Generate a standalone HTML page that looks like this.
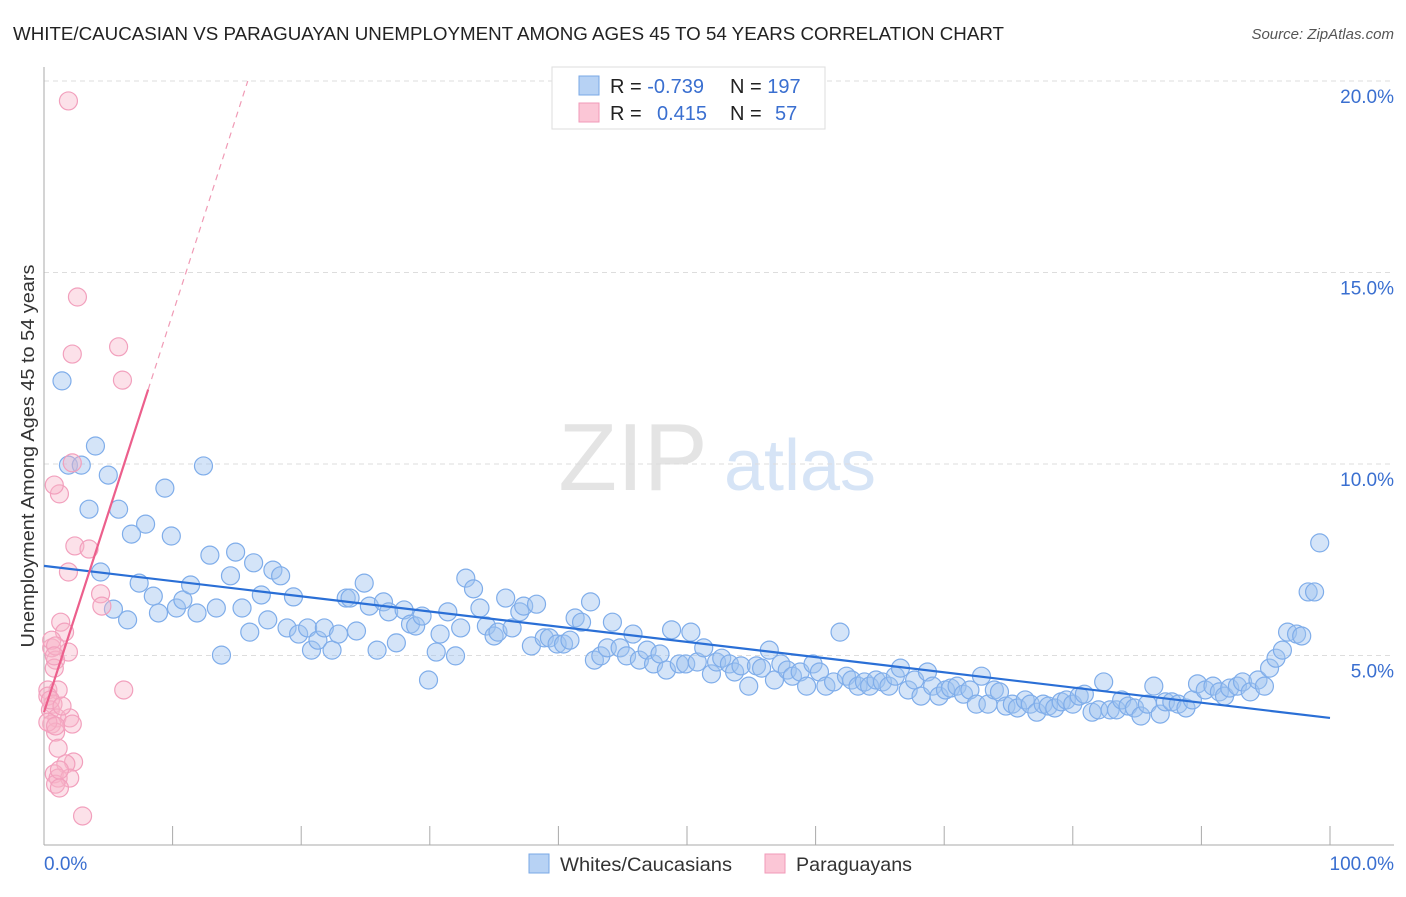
<!DOCTYPE html>
<html><head><meta charset="utf-8"><style>
body{margin:0;background:#fff;font-family:"Liberation Sans",sans-serif;}
svg text{font-family:"Liberation Sans",sans-serif;}
</style></head><body>
<svg id="chart" width="1406" height="892" xmlns="http://www.w3.org/2000/svg">
<text x="13" y="40" font-size="18.5" fill="#222" textLength="991" lengthAdjust="spacingAndGlyphs">WHITE/CAUCASIAN VS PARAGUAYAN UNEMPLOYMENT AMONG AGES 45 TO 54 YEARS CORRELATION CHART</text>
<text x="1394" y="39" font-size="15" fill="#555" font-style="italic" text-anchor="end">Source: ZipAtlas.com</text>
<text x="633" y="490" font-size="96" fill="#e4e4e4" font-family="Liberation Serif" text-anchor="middle">ZIP</text>
<text x="800" y="490" font-size="72" fill="#d6e4f6" text-anchor="middle">atlas</text>
<g id="grid"></g>
<g id="axes"></g>
<g id="pts"></g>
<g id="trend"></g>
<text transform="translate(34,456) rotate(-90)" font-size="18" fill="#333" text-anchor="middle" textLength="383" lengthAdjust="spacingAndGlyphs">Unemployment Among Ages 45 to 54 years</text>
<g>
<rect x="552" y="67" width="273" height="62" fill="#fff" stroke="#ddd"/>
<rect x="579" y="76" width="20" height="19" fill="#b7d2f4" stroke="#7aa8e6"/>
<rect x="579" y="103" width="20" height="19" fill="#fbc6d6" stroke="#f19ab8"/>
<text x="610" y="93" font-size="20" fill="#222">R = <tspan fill="#3a6fd0">-0.739</tspan></text>
<text x="730" y="93" font-size="20" fill="#222">N = <tspan fill="#3a6fd0">197</tspan></text>
<text x="610" y="120" font-size="20" fill="#222">R = <tspan fill="#3a6fd0" x="657">0.415</tspan></text>
<text x="730" y="120" font-size="20" fill="#222">N = <tspan fill="#3a6fd0" x="775">57</tspan></text>
</g>
<g>
<rect x="529" y="854" width="20" height="19" fill="#b7d2f4" stroke="#7aa8e6"/>
<text x="560" y="871" font-size="19.5" fill="#333" textLength="172" lengthAdjust="spacingAndGlyphs">Whites/Caucasians</text>
<rect x="765" y="854" width="20" height="19" fill="#fbc6d6" stroke="#f19ab8"/>
<text x="796" y="871" font-size="19.5" fill="#333" textLength="116" lengthAdjust="spacingAndGlyphs">Paraguayans</text>
</g>
</svg>
<script>
const xTicks=[0,10,20,30,40,50,60,70,80,90,100];
const yTicks=[5,10,15,20];
const yTickLabels=["5.0%","10.0%","15.0%","20.0%"];
const xEdgeLabels=["0.0%","100.0%"];
const whitesX=[1.4,4.0,1.9,2.9,5.0,3.5,5.8,9.4,12.4,7.9,6.8,9.9,4.4,5.4,6.5,7.4,8.5,8.9,10.3,10.8,11.4,11.9,12.9,13.4,13.8,14.5,14.9,15.4,16.0,16.3,16.9,17.4,17.8,18.4,18.9,19.4,19.8,20.5,20.8,21.3,21.8,22.4,22.9,23.5,23.8,24.3,24.9,25.3,25.9,26.4,26.8,27.4,28.0,28.5,28.9,29.4,29.9,30.5,30.8,31.4,32.0,32.4,32.8,33.4,33.9,34.4,35.0,35.3,35.9,36.4,37.0,37.3,37.9,38.3,38.9,39.3,39.9,40.4,40.9,41.3,41.8,42.5,42.8,43.3,43.8,44.2,44.8,45.3,45.8,46.3,46.9,47.4,47.9,48.4,48.8,49.4,49.9,50.3,50.8,51.3,51.9,52.3,52.7,53.3,53.7,54.2,54.8,55.4,55.8,56.4,56.8,57.3,57.8,58.2,58.8,59.3,59.8,60.3,60.8,61.4,61.9,62.4,62.8,63.3,63.8,64.2,64.7,65.2,65.7,66.2,66.6,67.2,67.7,68.2,68.7,69.1,69.6,70.1,70.5,71.0,71.5,72.0,72.5,72.9,73.4,73.9,74.3,74.8,75.3,75.7,76.3,76.7,77.2,77.7,78.1,78.6,79.1,79.5,80.0,80.5,80.9,81.5,82.0,82.4,82.9,83.4,83.8,84.3,84.8,85.3,85.8,86.3,86.8,87.2,87.7,88.2,88.8,89.3,89.7,90.3,90.9,91.4,91.8,92.2,92.8,93.2,93.8,94.4,94.9,95.3,95.8,96.3,96.7,97.4,97.8,98.3,98.8,99.2];
const whitesY=[12.17,10.47,9.97,9.97,9.71,8.82,8.82,9.37,9.95,8.43,8.17,8.12,7.18,6.21,5.93,6.89,6.55,6.11,6.24,6.45,6.84,6.11,7.62,6.24,5.01,7.08,7.70,6.24,5.61,7.42,6.58,5.93,7.23,7.08,5.72,6.53,5.56,5.72,5.14,5.40,5.72,5.14,5.56,6.50,6.50,5.64,6.89,6.29,5.14,6.40,6.14,5.33,6.19,5.82,5.77,6.03,4.36,5.09,5.56,6.14,4.99,5.72,7.02,6.74,6.24,5.77,5.51,5.61,6.50,5.72,6.14,6.29,5.25,6.34,5.46,5.46,5.30,5.30,5.40,5.98,5.87,6.40,4.88,4.99,5.20,5.87,5.20,4.99,5.56,4.88,5.14,4.78,5.04,4.62,5.67,4.78,4.78,5.61,4.83,5.20,4.52,4.83,4.93,4.78,4.57,4.73,4.20,4.73,4.67,5.14,4.36,4.78,4.62,4.46,4.57,4.20,4.78,4.57,4.20,4.31,5.61,4.46,4.36,4.20,4.31,4.20,4.36,4.31,4.20,4.46,4.67,4.10,4.36,3.94,4.57,4.20,3.94,4.10,4.15,4.20,3.99,4.10,3.73,4.46,3.73,4.10,4.05,3.68,3.73,3.63,3.84,3.73,3.52,3.73,3.68,3.63,3.79,3.84,3.73,3.94,3.99,3.52,3.58,4.31,3.58,3.58,3.84,3.68,3.63,3.42,3.73,4.20,3.47,3.79,3.79,3.73,3.63,3.84,4.26,4.10,4.20,4.05,3.94,4.15,4.20,4.31,4.05,4.36,4.20,4.67,4.93,5.14,5.61,5.56,5.51,6.66,6.66,7.94];
const paraX=[1.9,2.6,5.8,2.2,6.1,2.2,1.2,0.8,2.4,3.5,1.9,4.4,4.5,1.3,1.6,0.6,1.9,0.9,0.8,0.3,1.1,0.3,0.7,0.5,6.2,1.0,2.0,0.6,2.2,0.9,1.1,2.3,1.7,0.8,1.1,2.0,0.9,1.2,3.0,0.6,0.9,0.8,0.5,1.4,0.3,0.9,1.2];
const paraY=[19.48,14.36,13.06,12.87,12.19,10.03,9.22,9.45,7.86,7.78,7.18,6.61,6.29,5.87,5.61,5.20,5.09,4.88,4.67,4.10,4.10,3.94,3.73,3.58,4.10,3.37,3.37,3.21,3.21,3.00,2.58,2.22,2.17,1.91,1.80,1.80,1.64,1.54,0.81,5.40,5.25,4.99,3.84,3.68,3.26,3.16,2.01];
const whitesTrend=[7.34,3.37];
const paraTrend=[3.52,1.04];
const paraSolidEnd=8.1;

const NS="http://www.w3.org/2000/svg";
const X0=44,X1=1330,YB=847,YPER=38.3;
const sx=v=>X0+(X1-X0)*v/100;
const sy=v=>YB-v*YPER;
function mk(tag,attrs,parent){const e=document.createElementNS(NS,tag);for(const k in attrs)e.setAttribute(k,attrs[k]);parent.appendChild(e);return e;}
const grid=document.getElementById('grid'),axes=document.getElementById('axes'),pts=document.getElementById('pts'),trend=document.getElementById('trend');
yTicks.forEach((t,i)=>{
  const l=mk('line',{x1:X0,x2:1394,y1:sy(t),y2:sy(t),stroke:'#ddd','stroke-dasharray':'5,4'},grid);
  
  
  const tx=mk('text',{x:1394,y:sy(t)+22,'font-size':19,fill:'#3a6fd0','text-anchor':'end'},axes);
  tx.textContent=yTickLabels[i];
  
  
});
const ya=mk('line',{x1:X0,x2:X0,y1:67,y2:845,stroke:'#aaa'},axes);


const xa=mk('line',{x1:X0,x2:1394,y1:845,y2:845,stroke:'#aaa'},axes);


xTicks.forEach(t=>{
  const l=mk('line',{x1:sx(t),x2:sx(t),y1:826,y2:845,stroke:'#aaa'},axes);
  
  
});
[[0,'start',44],[100,'end',1394]].forEach((d,i)=>{
  const tx=mk('text',{x:d[2],y:870,'font-size':19,fill:'#3a6fd0','text-anchor':d[1]},axes);
  tx.textContent=xEdgeLabels[i];
  
  
});
whitesX.forEach((x,i)=>{
  const c=mk('circle',{cx:sx(x),cy:sy(whitesY[i]),r:9,fill:'rgba(160,196,240,0.45)',stroke:'#7fadea','stroke-width':1.2},pts);
  
  
});
paraX.forEach((x,i)=>{
  const c=mk('circle',{cx:sx(x),cy:sy(paraY[i]),r:9,fill:'rgba(248,180,200,0.4)',stroke:'#f2a0bd','stroke-width':1.2},pts);
  
  
});
const wl=mk('line',{x1:sx(0),y1:sy(whitesTrend[0]),x2:sx(100),y2:sy(whitesTrend[1]),stroke:'#2a6fd6','stroke-width':2.2},trend);


const pEnd=paraTrend[0]+paraTrend[1]*paraSolidEnd;
const pl=mk('line',{x1:sx(0),y1:sy(paraTrend[0]),x2:sx(paraSolidEnd),y2:sy(pEnd),stroke:'#ec5f8c','stroke-width':2.2},trend);


const xTop=(20-paraTrend[0])/paraTrend[1];
const pd=mk('line',{x1:sx(paraSolidEnd),y1:sy(pEnd),x2:sx(xTop),y2:sy(20),stroke:'#f09ab5','stroke-width':1.2,'stroke-dasharray':'6,5'},trend);


</script>
</body></html>
